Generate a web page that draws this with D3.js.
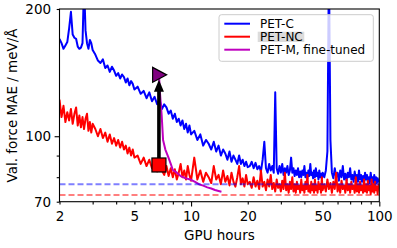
<!DOCTYPE html>
<html><head><meta charset="utf-8">
<script src="https://cdn.jsdelivr.net/npm/d3@7"></script>
<style>body{margin:0;background:#fff;} svg{display:block;font-family:"DejaVu Sans",sans-serif;}</style>
</head><body><svg id="c" width="397" height="248"></svg>
<script>
const hours = [
 2.00,2.05,2.10,2.15,2.20,2.25,2.30,2.35,2.40,2.45,2.50,2.55,2.60,2.65,2.70,2.75,2.80,2.85,2.90,2.95,3.00,
 3.1,3.2,3.3,3.4,3.5,3.6,3.7,3.8,3.9,4.0,4.1,4.2,4.3,4.4,4.5,4.6,4.7,4.8,4.9,5.0,
 5.2,5.4,5.6,5.8,6.0,6.2,6.4,6.6,6.8,7.0,7.2,7.4,7.6,7.8,8.0,8.2,8.4,8.6,8.8,9.0,9.2,9.4,9.6,9.8,10.0,
 10.4,10.8,11.2,11.6,12.0,12.4,12.8,13.2,13.6,14.0,14.4,14.8,15.2,15.6,16.0,16.4,16.8,17.2,17.6,18.0,18.4,18.8,19.2,19.6,20.0,
 20.5,21,21.5,22,22.5,23,23.5,24,24.5,25,25.5,26,26.5,27,27.5,28,28.5,29,29.5,30,
 30.5,31,31.5,32,32.5,33,33.5,34,34.5,35,35.5,36,36.5,37,37.5,38,38.5,39,39.5,40,
 40.5,41,41.5,42,42.5,43,43.5,44,44.5,45,45.5,46,46.5,47,47.5,48,48.5,49,49.5,50,
 51,52,53,54,55,56,57,58,59,60,61,62,63,64,65,66,67,68,69,70,
 71,72,73,74,75,76,77,78,79,80,81,82,83,84,85,86,87,88,89,90,
 91,92,93,94,95,96,97,98,99,100
];
const petC = [
 170,166,161,164,167,180,197,174,171,170,163,161,162,166,230,178,166,161,169,166,160,
 156,151,149,152,145,147,142,146,143,139,141,137,140,138,134,137,132,135,133,129,
 131,126,128,123,127,121,124,119,122,116,119,117,113,115,110,113,108,110,106,109,104,107,102,106,101,
 103,98,101,95,98,96,93,97,92,95,90,93,91,88,92,87,90,88,86,90,86,88,85,87,84.5,
 85,87,84,86.5,83.5,85,82.5,88,97,84,82,86,83,85,82,127,84,81.5,85,82,
 86,81,84,82,85,81,83,89,82,84,80.5,83,81,84,80,82.5,80,83,81,85,
 80,82,79.5,83,80.5,86,81,82,79.5,83,80,84,80.5,82,79,83,80,81.5,79.5,82,
 80,83,92,260,98,82,79.5,84,80,82,78.5,83,80,85,79,81.5,78.5,82,80,84,
 79,81,78,82.5,79.5,81,78,83,79,81,78,80.5,77.5,82,79,81,78,80,77.5,82,
 78.5,80,77.5,81,78,80,77.5,79.5,78,79
];
const petNC = [
 122,111,118,108,114,109,116,107,113,117,106,112,105,111,104,110,113,103,108,102,107,
 104,100,104,99,102,97,101,96,99,95,98,94,97,93,95,91,94,90,93,89,
 90,86,89,85,88,84,87,82.5,86,83,81,85,80.5,84,80,83.5,79,82,86,80,83,79,85,81,78.5,
 89,79,83,78,82,80,77.5,85,79,81,77,83,78,80.5,76.5,82,78,76,80,85,77,79.5,76,81,77,
 78,75.5,80,76,78.5,75,83,76,78,74.5,79,76,81,75,77.5,74,79,75.5,77,74,
 78.5,75,82,74.5,77,73.5,78,75,80,74,77,73.5,78,75,76.5,73.5,79,74.5,76.5,73.5,
 78,75,81,74,76.5,73.5,78,74.5,77,73.5,79,74.5,76.5,73.5,78,75,77,73.5,80,74.5,
 77,74,79,75,77.5,73.5,78,75,82,74,77,73.5,78.5,75,76.5,73.5,79,74.5,77,73.5,
 78,75,76.5,73.5,80,74,77,73.5,78,74.5,76.5,73.5,79,74,77,73.5,78.5,74.5,76.5,73,
 79,74,77,73.5,78,74.5,76,73,77,75
];
const ftHours = [6.75,6.85,6.98,7.1,7.3,7.56,7.8,8.0,8.4,8.8,9.3,9.9,10.5,11.0,11.6,12.2,12.8,13.4,14.0,14.5];
const petM =    [139.7,125,112,98,93,89.4,86,83.2,82,80.5,79.6,79,78,77,76.4,75.7,75.2,74.6,74.2,73.9];
const refLevels = [77, 72.6];
const startPoint = {hours: 6.75, mae: 85.5};
const endPoint = {hours: 6.75, mae: 139.7};
const xTickLabels = [2,5,10,20,50,100];
const xMinor = [3,4,6,7,8,9,30,40,60,70,80,90];
const yTickLabels = [70,100,200];
const yMinor = [80,90];
const legendLabels = ["PET-C","PET-NC","PET-M, fine-tuned"];
const colors = ["#0000ff","#ff0000","#bf00bf"];

const svg = d3.select("#c");
const m = {l:59.5, r:379.3, t:9, b:201.7};
const x = d3.scaleLog().domain([2,100]).range([m.l, m.r]);
const y = d3.scaleLog().domain([70,200]).range([m.b, m.t]);

svg.append("defs").append("clipPath").attr("id","clip")
  .append("rect").attr("x",m.l).attr("y",m.t).attr("width",m.r-m.l).attr("height",m.b-m.t);

const plot = svg.append("g").attr("clip-path","url(#clip)");
const line = d3.line().x(d=>x(d[0])).y(d=>y(d[1]));
const series = [
  {h:hours, v:petC, c:colors[0]},
  {h:hours, v:petNC, c:colors[1]},
  {h:ftHours, v:petM, c:colors[2]}
];
series.forEach(s=>{
  plot.append("path").datum(s.h.map((h,i)=>[h,s.v[i]]))
    .attr("d",line).attr("fill","none").attr("stroke",s.c)
    .attr("stroke-width",2).attr("stroke-linejoin","round");
});
refLevels.forEach((v,i)=>{
  plot.append("line").attr("x1",m.l).attr("x2",m.r).attr("y1",y(v)).attr("y2",y(v))
    .attr("stroke",colors[i]).attr("stroke-opacity",0.5).attr("stroke-width",2)
    .attr("stroke-dasharray","6,3");
});

// arrow
const ax = x(startPoint.hours), ay0 = y(startPoint.mae), ayTip = y(endPoint.mae)+5;
plot.append("line").attr("x1",ax).attr("x2",ax).attr("y1",ay0).attr("y2",ayTip+11)
  .attr("stroke","#000").attr("stroke-width",3.6);
plot.append("path").attr("d",`M${ax},${ayTip} L${ax-5},${ayTip+12} L${ax+5},${ayTip+12} Z`).attr("fill","#000");
// markers
plot.append("rect").attr("x",ax-7).attr("y",ay0-7).attr("width",14).attr("height",14)
  .attr("fill","#ff0000").attr("stroke","#000").attr("stroke-width",1.2);
const tx = x(endPoint.hours)+0.7, ty = y(endPoint.mae);
plot.append("path").attr("d",`M${tx-7},${ty-7.5} L${tx+7},${ty} L${tx-7},${ty+7.5} Z`)
  .attr("fill","#800080").attr("stroke","#000").attr("stroke-width",1.2);

// axes
function styleAxis(g){
  g.select(".domain").remove();
  g.selectAll("line").attr("stroke","#000").attr("stroke-width",1.1);
  g.selectAll("text").attr("fill","#000").style("font-size","13.5px").style("font-family","DejaVu Sans");
}
const gx = svg.append("g").attr("transform",`translate(0,${m.b})`)
  .call(d3.axisBottom(x).tickValues(xTickLabels).tickFormat(d3.format("d")).tickSize(4.9).tickPadding(5.3));
styleAxis(gx);
gx.selectAll(".tick line").attr("y2",d=>[10,100].includes(d)?4.9:2.8);
const gxm = svg.append("g").attr("transform",`translate(0,${m.b})`)
  .call(d3.axisBottom(x).tickValues(xMinor).tickFormat("").tickSize(2.8));
styleAxis(gxm);
const gy = svg.append("g").attr("transform",`translate(${m.l},0)`)
  .call(d3.axisLeft(y).tickValues(yTickLabels).tickFormat(d3.format("d")).tickSize(4.9).tickPadding(3.5));
styleAxis(gy);
gy.selectAll(".tick line").attr("x2",d=>d===100?-4.9:-2.8);
const gym = svg.append("g").attr("transform",`translate(${m.l},0)`)
  .call(d3.axisLeft(y).tickValues(yMinor).tickFormat("").tickSize(2.8));
styleAxis(gym);

svg.append("rect").attr("x",m.l).attr("y",m.t).attr("width",m.r-m.l).attr("height",m.b-m.t)
  .attr("fill","none").attr("stroke","#000").attr("stroke-width",1.1);

svg.append("text").attr("x",(m.l+m.r)/2).attr("y",240).attr("text-anchor","middle")
  .style("font-size","13.5px").text("GPU hours");
svg.append("text").attr("transform","translate(16.5,105.5) rotate(-90)").attr("text-anchor","middle")
  .style("font-size","13.5px").text("Val. force MAE / meV/Å");

// legend
const lg = svg.append("g");
lg.append("rect").attr("x",219).attr("y",14.7).attr("width",154.3).attr("height",46.6).attr("rx",2.5)
  .attr("fill","#fff").attr("fill-opacity",0.8).attr("stroke","#cccccc").attr("stroke-width",1);
legendLabels.forEach((t,i)=>{
  const cy = 23.7 + i*13;
  lg.append("line").attr("x1",224.3).attr("x2",250).attr("y1",cy).attr("y2",cy)
    .attr("stroke",colors[i]).attr("stroke-width",2);
  if(i===1){
    lg.append("rect").attr("x",257.7).attr("y",cy-5).attr("width",46.6).attr("height",10.3).attr("fill","#dcdcdc");
  }
  lg.append("text").attr("x",260).attr("y",cy+4.4).style("font-size","12px").attr("fill","#000").text(t);
});
</script></body></html>
